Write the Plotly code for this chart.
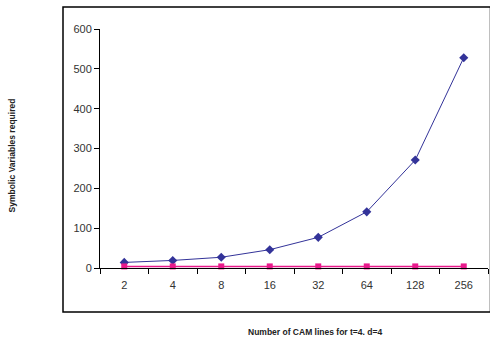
import plotly.graph_objects as go

categories = ["2", "4", "8", "16", "32", "64", "128", "256"]
series_a = [14, 19, 27, 46, 77, 141, 271, 528]
series_b = [4, 4, 4, 4, 4, 4, 4, 4]
y_ticks = [0, 100, 200, 300, 400, 500, 600]

W, H = 490, 338
L, R, T, B = 100, 2, 29, 70
pw, ph = W - L - R, H - T - B

def px_x(p):
    return (p - L) / pw

def px_y(p):
    return (H - B - p) / ph

fig = go.Figure()
fig.add_trace(go.Scatter(
    x=categories, y=series_a, mode="lines+markers",
    line=dict(color="#333399", width=1),
    marker=dict(symbol="diamond", size=7, color="#333399"),
    showlegend=False, cliponaxis=False))
fig.add_trace(go.Scatter(
    x=categories, y=series_b, mode="lines+markers",
    line=dict(color="#E8198B", width=1.5),
    marker=dict(symbol="square", size=6, color="#E8198B"),
    showlegend=False, cliponaxis=False))

fig.update_layout(
    width=W, height=H,
    margin=dict(l=L, r=R, t=T, b=B),
    paper_bgcolor="white", plot_bgcolor="white",
    font=dict(family="Arial, Liberation Sans, sans-serif", size=11, color="#333333"),
    xaxis=dict(type="category", range=[-0.5, 7.5], showgrid=False, zeroline=False,
               showline=True, linecolor="black", linewidth=1,
               ticks="outside", tickson="boundaries", ticklen=5, tickcolor="black",
               ticklabelstandoff=7,
               tickfont=dict(size=11, color="#333333")),
    yaxis=dict(range=[0, 600], tickvals=y_ticks, showgrid=False, zeroline=False,
               showline=True, linecolor="black", linewidth=1,
               ticks="outside", ticklen=5, tickcolor="black",
               tickfont=dict(size=11, color="#333333")),
    shapes=[dict(type="rect", xref="paper", yref="paper",
                 x0=px_x(63), x1=px_x(490.5), y0=px_y(312), y1=px_y(7),
                 line=dict(color="black", width=1.5), layer="below")],
    annotations=[
        dict(text="<b>Symbolic Variables required</b>", xref="paper", yref="paper",
             x=px_x(11), y=px_y(155.5), textangle=-90, showarrow=False,
             font=dict(size=8.5, color="#222222"), xanchor="center", yanchor="middle"),
        dict(text="<b>Number of CAM lines for t=4. d=4</b>", xref="paper", yref="paper",
             x=px_x(315), y=px_y(332), showarrow=False,
             font=dict(size=8.5, color="#222222"), xanchor="center", yanchor="middle"),
    ],
)

fig.write_html("out.html", config={"displayModeBar": False},
               post_script="document.body.style.margin='0';document.body.style.overflow='hidden';")
